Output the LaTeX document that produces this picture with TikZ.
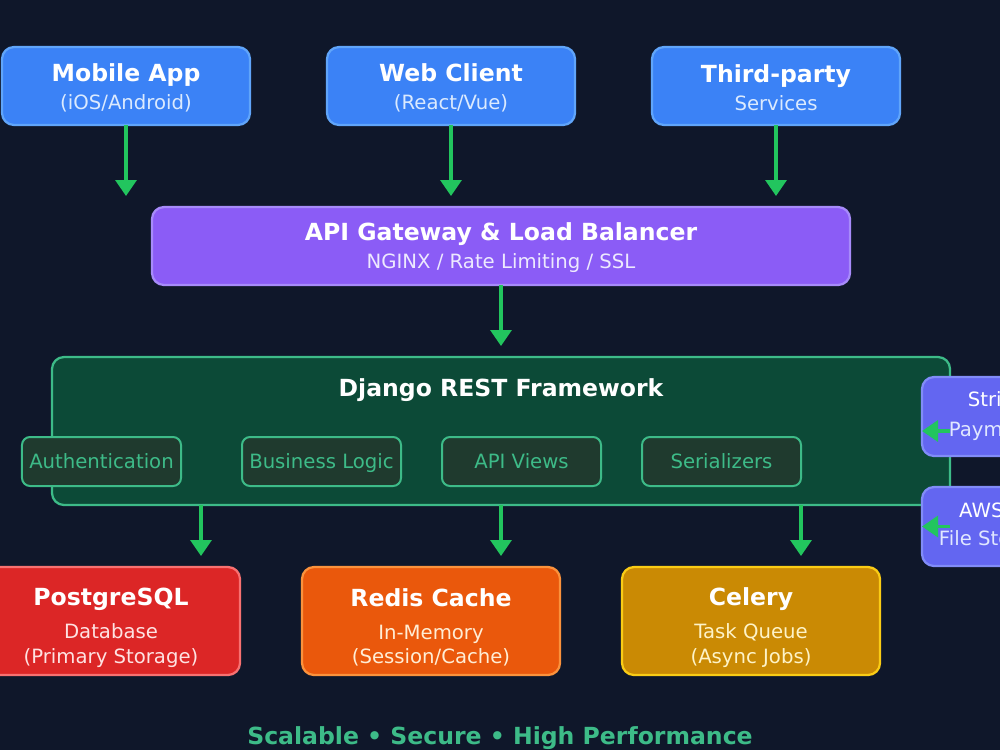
\documentclass[tikz,border=0pt]{standalone}
\usepackage{fontspec}
\setmainfont{DejaVu Sans}
\usepackage{tikz}
\usetikzlibrary{positioning,arrows.meta}
\definecolor{bgc}{HTML}{0F172A}
\definecolor{clientc}{HTML}{3B82F6}
\definecolor{clientl}{HTML}{60A5FA}
\definecolor{clientt}{HTML}{DBEAFE}
\definecolor{gatec}{HTML}{8B5CF6}
\definecolor{gatel}{HTML}{A78BFA}
\definecolor{gatet}{HTML}{EDE9FE}
\definecolor{djangoc}{HTML}{0C4A37}
\definecolor{djangol}{HTML}{3DBB88}
\definecolor{modc}{HTML}{1F3A2E}
\definecolor{extc}{HTML}{6366F1}
\definecolor{extl}{HTML}{818CF8}
\definecolor{extt}{HTML}{E0E7FF}
\definecolor{pgc}{HTML}{DC2626}
\definecolor{pgl}{HTML}{F87171}
\definecolor{pgt}{HTML}{FEE2E2}
\definecolor{redisc}{HTML}{EA580C}
\definecolor{redisl}{HTML}{FB923C}
\definecolor{redist}{HTML}{FFEDD5}
\definecolor{celeryc}{HTML}{CA8A04}
\definecolor{celeryl}{HTML}{FACC15}
\definecolor{celeryt}{HTML}{FEF3C7}
\definecolor{flowc}{HTML}{22C55E}
\newcommand{\bigbold}{\fontsize{13.4}{16}\selectfont\bfseries}
\newcommand{\smallreg}{\fontsize{11.2}{14.2}\selectfont}
\tikzset{
  card/.style     = {line width=0.45mm, rounded corners=2.4mm, align=center, text=white,
                     font=\smallreg, inner sep=0pt, outer sep=0pt},
  client/.style   = {card, draw=clientl, fill=clientc, minimum width=49.6mm, minimum height=15.6mm},
  gateway/.style  = {card, draw=gatel, fill=gatec, minimum width=139.6mm, minimum height=15.6mm},
  djframe/.style  = {draw=djangol, line width=0.45mm, fill=djangoc, rounded corners=2.4mm,
                     minimum width=179.6mm, minimum height=29.6mm, inner sep=0pt, outer sep=0pt},
  djtitle/.style  = {font=\bigbold, text=white, inner sep=0pt},
  module/.style   = {draw=djangol, line width=0.4mm, fill=modc, rounded corners=1.6mm,
                     minimum width=31.8mm, minimum height=9.8mm, text=djangol, font=\smallreg,
                     text height=10.5pt, text depth=2.3pt, inner sep=0pt, outer sep=0pt},
  external/.style = {card, draw=extl, fill=extc, minimum width=30mm, minimum height=15.8mm},
  store/.style    = {card, minimum width=51.6mm, minimum height=21.6mm},
  flow/.style     = {-{Triangle[length=3.2mm,width=4.2mm]}, line width=0.65mm, draw=flowc,
                     shorten >=2.2mm},
  motto/.style    = {font=\bigbold, text=djangol, inner sep=0pt},
}
\begin{document}
\begin{tikzpicture}[x=0.2mm, y=-0.2mm, node distance=6mm]
\useasboundingbox (0,0) rectangle (1000,750);
\fill[bgc] (0,0) rectangle (1000,750);
\clip (0,0) rectangle (1000,750);

% clients
\node[client] (mobile) at (126,86) {\rule{0pt}{12.3pt}{\bigbold Mobile App}\\[1.7pt]\textcolor{clientt}{(iOS/Android)}};
\node[client, right=15.4mm of mobile] (web) {\rule{0pt}{12.3pt}{\bigbold Web Client}\\[1.7pt]\textcolor{clientt}{(React/Vue)}};
\node[client, right=15.4mm of web] (third) {\rule{0pt}{12.3pt}{\bigbold Third-party}\\[1.7pt]\textcolor{clientt}{Services}};

\node[gateway] (gateway) at (501,246) {\rule{0pt}{12.3pt}{\bigbold API Gateway \& Load Balancer}\\[1.7pt]\textcolor{gatet}{NGINX / Rate Limiting / SSL}};

% django block
\node[djframe] (django) at (501,431) {};
\node[djtitle, anchor=base] (djtitle) at (501,396) {Django REST Framework};
\node[module] (auth) at (101.5,461.5) {Authentication};
\node[module, right=12.2mm of auth] (logic) {Business Logic};
\node[module, right=8.2mm of logic] (views) {API Views};
\node[module, right=8.2mm of views] (serial) {Serializers};

\node[external] (stripe) at (997,416.5) {Stripe\\[2.8pt]\textcolor{extt}{Payments}};
\node[external, below=6.2mm of stripe] (aws) {AWS S3\\[2pt]\textcolor{extt}{File Storage}};

% storage
\node[store, draw=pgl, fill=pgc] (postgres) at (111,621)
  {\rule{0pt}{17.8pt}{\bigbold PostgreSQL}\\[4.2pt]\textcolor{pgt}{Database}\\\textcolor{pgt}{(Primary Storage)}};
\node[store, draw=redisl, fill=redisc, right=12.4mm of postgres] (redis)
  {\rule{0pt}{17.8pt}{\bigbold Redis Cache}\\[4.2pt]\textcolor{redist}{In-Memory}\\\textcolor{redist}{(Session/Cache)}};
\node[store, draw=celeryl, fill=celeryc, right=12.4mm of redis] (celery)
  {\rule{0pt}{17.8pt}{\bigbold Celery}\\[4.2pt]\textcolor{celeryt}{Task Queue}\\\textcolor{celeryt}{(Async Jobs)}};

\draw[flow] (mobile) -- (mobile |- gateway.north);
\draw[flow] (web) -- (web |- gateway.north);
\draw[flow] (third) -- (third |- gateway.north);
\draw[flow] (gateway) -- (django);
\draw[flow] ([xshift=-60mm]django.south) -- ([xshift=-60mm]django.south |- postgres.north);
\draw[flow] (django) -- (django.south |- redis.north);
\draw[flow] ([xshift=60mm]django.south) -- ([xshift=60mm]django.south |- celery.north);
\draw[flow, shorten >=0pt] (django.east) -- (django.east -| stripe.west);
\draw[flow, shorten >=0pt] (django.east |- aws) -- (aws.west);

\node[motto, anchor=base] (motto) at (500,744) {Scalable • Secure • High Performance};

\end{tikzpicture}
\end{document}
